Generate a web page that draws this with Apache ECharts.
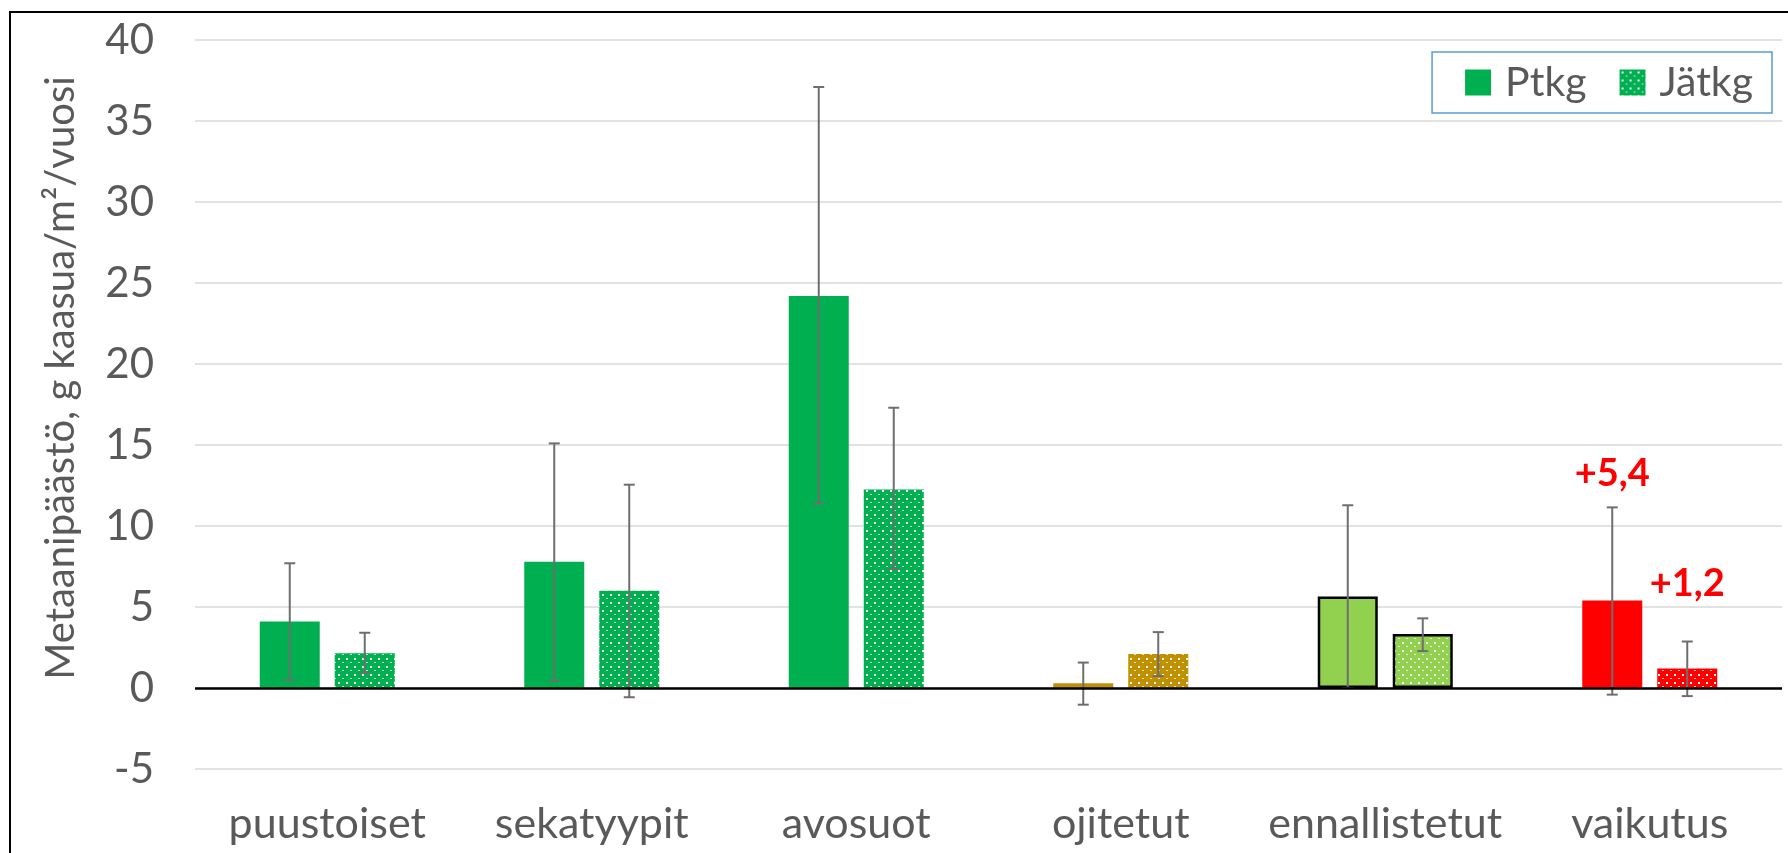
<!DOCTYPE html>
<html>
<head>
<meta charset="utf-8">
<script src="https://cdn.jsdelivr.net/npm/echarts@6/dist/echarts.min.js"></script>
<style>
  html, body { margin: 0; padding: 0; background: #fff; }
  #chart { width: 1788px; height: 853px; }
</style>
</head>
<body>
<div id="chart"></div>
<script>
// Methane emissions by peatland type, g gas / m² / year
const categories = ['puustoiset', 'sekatyypit', 'avosuot', 'ojitetut', 'ennallistetut', 'vaikutus'];

const ptkgValues  = [4.1, 7.8, 24.2, 0.3, 5.65, 5.4];
const jatkgValues = [2.15, 6.0, 12.25, 2.1, 3.33, 1.2];

// error bar ranges (lower, upper)
const ptkgErrLow   = [0.5, 0.45, 11.4, -1.03, 0.0, -0.41];
const ptkgErrHigh  = [7.7, 15.1, 37.1, 1.57, 11.28, 11.15];
const jatkgErrLow  = [0.95, -0.57, 7.35, 0.74, 2.28, -0.5];
const jatkgErrHigh = [3.41, 12.55, 17.3, 3.45, 4.3, 2.87];

const barColors = ['#00AF50', '#00AF50', '#00AF50', '#BF9000', '#92D050', '#FF0000'];
const outlined  = [false, false, false, false, true, false];
const labelled  = [false, false, false, false, false, true];

const yMin = -5, yMax = 40, yStep = 5;

const FONT = 'Lato';
const TEXT_GREY = '#595959';

// white dotted fill used for the Jätkg bars
function dotted(color) {
  const c = document.createElement('canvas');
  c.width = 8; c.height = 8;
  const g = c.getContext('2d');
  g.fillStyle = color;
  g.fillRect(0, 0, 8, 8);
  g.fillStyle = 'rgba(255,255,255,0.95)';
  g.fillRect(2, 2, 2, 2);
  g.fillStyle = 'rgba(255,255,255,0.75)';
  g.fillRect(6, 6, 2, 1);
  return { image: c, repeat: 'repeat' };
}

function valueText(v) {
  return '+' + v.toFixed(1).replace('.', ',');
}

const BAR_W = 60, BAR_GAP = 15;
const HALF_STEP = (BAR_W + BAR_GAP) / 2;

function barData(values, patterned, labelDistances) {
  return values.map((v, i) => ({
    value: v,
    itemStyle: {
      color: patterned ? dotted(barColors[i]) : barColors[i],
      borderColor: outlined[i] ? '#000' : 'transparent',
      borderWidth: outlined[i] ? 2.5 : 0
    },
    label: {
      show: labelled[i],
      distance: labelDistances[i]
    }
  }));
}

function errorRenderer(offset) {
  return function (params, api) {
    const i = api.value(0);
    const top = api.coord([i, api.value(2)]);
    const bot = api.coord([i, api.value(1)]);
    const x = top[0] + offset;
    const cap = 5.5;
    const style = { stroke: '#6E6E6E', lineWidth: 2 };
    return {
      type: 'group',
      children: [
        { type: 'line', shape: { x1: x, y1: top[1], x2: x, y2: bot[1] }, style },
        { type: 'line', shape: { x1: x - cap, y1: top[1], x2: x + cap, y2: top[1] }, style },
        { type: 'line', shape: { x1: x - cap, y1: bot[1], x2: x + cap, y2: bot[1] }, style }
      ]
    };
  };
}

const valueLabel = {
  position: 'top',
  color: '#FF0000',
  fontFamily: FONT,
  fontWeight: 'bold',
  fontSize: 38,
  formatter: p => valueText(p.value)
};

const chart = echarts.init(document.getElementById('chart'), null, { renderer: 'canvas' });

chart.setOption({
  animation: false,
  backgroundColor: '#fff',
  textStyle: { fontFamily: FONT },
  grid: { left: 195, right: 6, top: 40, bottom: 84 },
  legend: {
    data: ['Ptkg', 'Jätkg'],
    right: 16,
    top: 52,
    padding: [10, 19, 10, 33],
    borderColor: '#5B9BD5',
    borderWidth: 1.5,
    itemWidth: 26,
    itemHeight: 26,
    itemGap: 33,
    icon: 'rect',
    textStyle: { fontFamily: FONT, fontSize: 41, color: TEXT_GREY, padding: [0, 0, 0, 9] }
  },
  xAxis: {
    type: 'category',
    data: categories,
    axisLine: { show: false, onZero: false },
    axisTick: { show: false },
    axisLabel: { interval: 0, fontFamily: FONT, fontSize: 43, color: TEXT_GREY, margin: 34 }
  },
  yAxis: {
    type: 'value',
    min: yMin,
    max: yMax,
    interval: yStep,
    axisLine: { show: false },
    axisTick: { show: false },
    splitLine: { lineStyle: { color: '#D9D9D9', width: 1.5 } },
    axisLabel: { fontFamily: FONT, fontSize: 42, color: TEXT_GREY, margin: 41 }
  },
  graphic: [
    {
      type: 'rect',
      shape: { x: 10, y: 12, width: 1800, height: 900 },
      style: { fill: 'none', stroke: '#000', lineWidth: 2 },
      silent: true
    },
    {
      type: 'text',
      x: 61,
      y: 378,
      rotation: Math.PI / 2,
      style: {
        text: 'Metaanipäästö, g kaasua/m²/vuosi',
        font: '40px Lato',
        fill: TEXT_GREY,
        align: 'center',
        verticalAlign: 'middle'
      },
      silent: true
    }
  ],
  series: [
    {
      name: 'Ptkg',
      type: 'bar',
      barWidth: BAR_W,
      barGap: (BAR_GAP / BAR_W * 100) + '%',
      itemStyle: { color: barColors[0] },
      label: valueLabel,
      data: barData(ptkgValues, false, [0, 0, 0, 0, 0, 108]),
      markLine: {
        silent: true,
        symbol: 'none',
        label: { show: false },
        lineStyle: { color: '#000', width: 2.5, type: 'solid' },
        data: [{ yAxis: 0 }],
        z: 10
      }
    },
    {
      name: 'Jätkg',
      type: 'bar',
      barWidth: BAR_W,
      itemStyle: { color: dotted(barColors[0]) },
      label: valueLabel,
      data: barData(jatkgValues, true, [0, 0, 0, 0, 0, 66])
    },
    {
      name: 'Ptkg virhe',
      type: 'custom',
      renderItem: errorRenderer(-HALF_STEP),
      encode: { x: 0, y: [1, 2] },
      data: categories.map((c, i) => [i, ptkgErrLow[i], ptkgErrHigh[i]]),
      z: 5
    },
    {
      name: 'Jätkg virhe',
      type: 'custom',
      renderItem: errorRenderer(HALF_STEP),
      encode: { x: 0, y: [1, 2] },
      data: categories.map((c, i) => [i, jatkgErrLow[i], jatkgErrHigh[i]]),
      z: 5
    }
  ]
});
</script>
</body>
</html>
